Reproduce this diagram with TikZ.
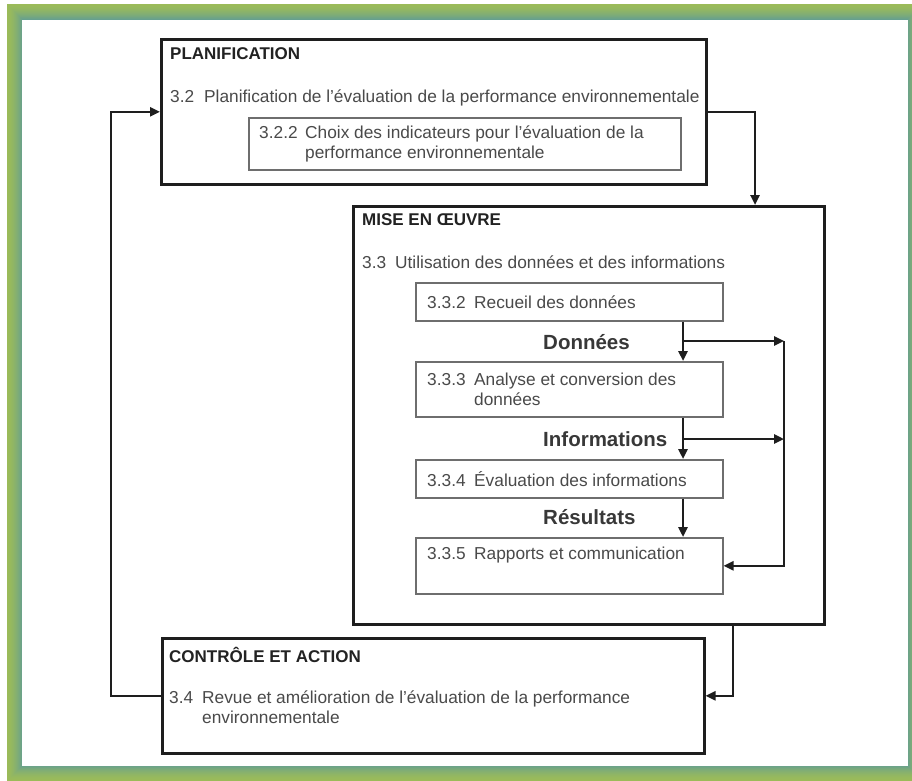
\documentclass[tikz,border=0pt]{standalone}
\usepackage{fontspec}
\setmainfont{Liberation Sans}
\usetikzlibrary{arrows.meta}
\definecolor{frameolive}{HTML}{9BBB59}
\definecolor{frameteal}{HTML}{67A08E}
\definecolor{bodytext}{HTML}{4A4A4A}
\definecolor{headtext}{HTML}{222222}
\definecolor{boxline}{HTML}{1E1E1E}
\definecolor{subline}{HTML}{6E6E6E}
% item number set in a fixed-width slot, then its title
\newcommand{\itemnum}[2]{\makebox[#1][l]{#2}}
\begin{document}
\begin{tikzpicture}[x=1pt,y=-1pt,
  outerbox/.style={draw=boxline,line width=2.6pt,inner sep=0pt,anchor=north west},
  subbox/.style={draw=subline,line width=1.6pt,inner sep=0pt,anchor=north west},
  head/.style={anchor=west,inner sep=0pt,text=headtext,font=\fontsize{17}{20}\selectfont\bfseries},
  body/.style={anchor=west,inner sep=0pt,text=bodytext,align=left,font=\fontsize{17.3}{20}\selectfont},
  flow/.style={anchor=west,inner sep=0pt,text=headtext!90!white,font=\fontsize{20.5}{24}\selectfont\bfseries},
  link/.style={draw=boxline,line width=2.4pt},
  arr/.style={link,-{Triangle[length=10pt,width=9pt]}}]
\useasboundingbox (0,0) rectangle (912,780);
\fill[white] (0,0) rectangle (912,780);

% graded frame: olive outside, teal along the inner edge
\begin{scope}
  \clip (0,0) rectangle (912,780);
  \foreach \i in {0,...,15}{
    \pgfmathtruncatemacro\p{100-100*(\i/15)^1.6}
    \fill[frameolive!\p!frameteal] (7+\i,4+\i) rectangle (923-\i,781-\i);
  }
  \fill[white] (22,20) rectangle (908,766);
\end{scope}

% PLANIFICATION
\node[outerbox,minimum width=545pt,minimum height=145pt] (plan) at (160,38) {};
\node[head] (planhead) at (170,54) {PLANIFICATION};
\node[body] (t32) at (170,98) {\itemnum{34pt}{3.2}Planification de l'évaluation de la performance environnementale};
\node[subbox,minimum width=432pt,minimum height=52pt] (b322) at (248,117) {};
\node[body] (t322) at (259,144) {\itemnum{46pt}{3.2.2}Choix des indicateurs pour l'évaluation de la\\\hspace*{46pt}performance environnementale};

% MISE EN OEUVRE
\node[outerbox,minimum width=471pt,minimum height=418pt] (mise) at (352,205) {};
\node[head] (misehead) at (362,220) {MISE EN ŒUVRE};
\node[body] (t33) at (362,262) {\itemnum{33pt}{3.3}Utilisation des données et des informations};

\node[subbox,minimum width=307pt,minimum height=38pt] (b332) at (415,282) {};
\node[body] (t332) at (427,302) {\itemnum{47pt}{3.3.2}Recueil des données};
\node[flow] (lbldon) at (543,342) {Données};

\node[subbox,minimum width=307pt,minimum height=55pt] (b333) at (415,361) {};
\node[body] (t333) at (427,389) {\itemnum{47pt}{3.3.3}Analyse et conversion des\\\hspace*{47pt}données};
\node[flow] (lblinf) at (543,439) {Informations};

\node[subbox,minimum width=307pt,minimum height=38pt] (b334) at (415,459) {};
\node[body] (t334) at (427,479) {\itemnum{47pt}{3.3.4}Évaluation des informations};
\node[flow] (lblres) at (543,517) {Résultats};

\node[subbox,minimum width=307pt,minimum height=56pt] (b335) at (415,537) {};
\node[body] (t335) at (427,555) {\itemnum{47pt}{3.3.5}Rapports et communication};

% CONTROLE ET ACTION
\node[outerbox,minimum width=542pt,minimum height=115pt] (ctrl) at (161,637) {};
\node[head] (ctrlhead) at (169,655) {CONTRÔLE ET ACTION};
\node[body] (t34) at (169,707) {\itemnum{33pt}{3.4}Revue et amélioration de l'évaluation de la performance\\\hspace*{33pt}environnementale};

% routing columns
\coordinate (colloop) at (111,0);
\coordinate (coldown) at (755,0);
\coordinate (colback) at (733,0);
\coordinate (colflow) at (683,0);
\coordinate (colside) at (784,0);
\coordinate (tapdon) at (683,341);
\coordinate (tapinf) at (683,439);

% main cycle
\draw[arr] (plan.east) -| (mise.north -| coldown);
\draw[arr] (mise.south -| colback) |- (ctrl.east);
\draw[arr] (ctrl.west) -- (ctrl.west -| colloop) -- (plan.west -| colloop) -- (plan.west);

% inner flow
\draw[arr] (b332.south -| colflow) -- (b333.north -| colflow);
\draw[arr] (b333.south -| colflow) -- (b334.north -| colflow);
\draw[arr] (b334.south -| colflow) -- (b335.north -| colflow);
\draw[arr] (tapdon) -- (tapdon -| colside);
\draw[arr] (tapinf) -- (tapinf -| colside);
\draw[arr] (tapdon -| colside) |- (b335.east);
\end{tikzpicture}
\end{document}
